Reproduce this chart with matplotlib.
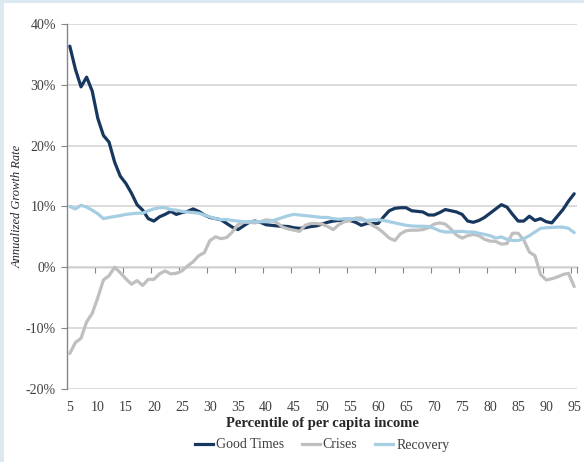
import numpy as np
import matplotlib
matplotlib.use("Agg")
import matplotlib.pyplot as plt
from matplotlib.patches import Rectangle
from matplotlib.lines import Line2D

percentiles = list(range(5, 96))

good_times = [36.4, 32.6, 29.7, 31.3, 29.0, 24.5, 21.7, 20.6, 17.3, 15.0,
              13.8, 12.2, 10.3, 9.4, 8.0, 7.6, 8.3, 8.7, 9.2, 8.7,
              9.0, 9.2, 9.6, 9.2, 8.6, 8.2, 8.0, 7.8, 7.2, 6.6,
              6.2, 6.8, 7.4, 7.6, 7.4, 7.0, 6.9, 6.8, 6.75, 6.7,
              6.5, 6.4, 6.5, 6.7, 6.8, 7.1, 7.4, 7.6, 7.7, 7.7,
              7.7, 7.4, 6.9, 7.2, 7.2, 7.2, 8.3, 9.3, 9.7, 9.8,
              9.8, 9.3, 9.2, 9.1, 8.6, 8.6, 9.0, 9.5, 9.3, 9.1,
              8.7, 7.6, 7.4, 7.7, 8.2, 8.9, 9.6, 10.3, 9.9, 8.7,
              7.6, 7.6, 8.4, 7.7, 8.0, 7.5, 7.3, 8.4, 9.5, 10.9,
              12.1]

crises = [-14.2, -12.4, -11.7, -9.0, -7.6, -5.0, -2.1, -1.4, 0.0, -0.9,
          -1.9, -2.8, -2.2, -3.0, -2.0, -2.0, -1.1, -0.6, -1.1, -1.0,
          -0.6, 0.2, 0.9, 1.9, 2.4, 4.4, 5.0, 4.7, 4.9, 5.8,
          7.0, 7.4, 7.4, 7.3, 7.5, 7.8, 7.7, 7.3, 6.6, 6.3,
          6.1, 5.9, 6.9, 7.2, 7.2, 7.1, 6.7, 6.2, 7.0, 7.5,
          7.7, 8.1, 8.1, 7.6, 6.9, 6.4, 5.65, 4.8, 4.4, 5.5,
          6.0, 6.1, 6.1, 6.2, 6.5, 7.1, 7.3, 7.1, 6.3, 5.3,
          4.8, 5.2, 5.4, 5.2, 4.6, 4.3, 4.25, 3.8, 3.9, 5.6,
          5.6, 4.5, 2.5, 1.9, -1.2, -2.1, -1.9, -1.6, -1.2, -1.0,
          -3.2]

recovery = [10.0, 9.6, 10.2, 9.9, 9.4, 8.8, 8.0, 8.2, 8.35, 8.5,
            8.7, 8.8, 8.9, 8.9, 9.3, 9.6, 9.8, 9.8, 9.5, 9.4,
            9.2, 9.1, 9.0, 8.9, 8.6, 8.3, 8.0, 7.85, 7.85, 7.7,
            7.6, 7.5, 7.5, 7.5, 7.5, 7.5, 7.6, 7.9, 8.2, 8.5,
            8.7, 8.6, 8.5, 8.4, 8.3, 8.2, 8.2, 8.0, 7.9, 8.0,
            8.0, 7.9, 7.8, 7.7, 7.8, 7.8, 7.7, 7.5, 7.3, 7.1,
            6.9, 6.8, 6.75, 6.75, 6.7, 6.4, 6.0, 5.8, 5.8, 5.9,
            5.9, 5.8, 5.8, 5.6, 5.4, 5.2, 4.8, 5.0, 4.6, 4.4,
            4.4, 4.7, 5.2, 5.8, 6.4, 6.5, 6.55, 6.6, 6.6, 6.4,
            5.7]

series_names = ["Good Times", "Crises", "Recovery"]
series_colors = ["#17375E", "#BFBFBF", "#A6CEE3"]
x_tick_values = list(range(5, 96, 5))
y_tick_values = [-20, -10, 0, 10, 20, 30, 40]

plt.rcParams['font.family'] = ['Liberation Serif', 'DejaVu Serif']

W, H = 584, 462
fig = plt.figure(figsize=(W / 100, H / 100), dpi=100)
fig.patch.set_facecolor("white")
strip = "#DDE9F1"
fig.add_artist(Rectangle((0, 0), 4 / W, 1, transform=fig.transFigure,
                         facecolor=strip, edgecolor="none", zorder=-10))
fig.add_artist(Rectangle((0, 1 - 3 / H), 1, 3 / H, transform=fig.transFigure,
                         facecolor=strip, edgecolor="none", zorder=-10))

left, right, top, bottom = 67, 577, 24.3, 388.7
ax = fig.add_axes([left / W, 1 - bottom / H, (right - left) / W, (bottom - top) / H])
ax.set_facecolor("none")

for vals, name, col in zip([good_times, crises, recovery], series_names, series_colors):
    ax.plot(percentiles, vals, color=col, lw=2.3, label=name, zorder=3,
            solid_joinstyle="round", solid_capstyle="round")

ax.set_xlim(4.5, 95.5)
ax.set_ylim(-20, 40)

ax.set_yticks(y_tick_values)
ax.set_yticklabels([f"{v}%" for v in y_tick_values], fontsize=10, color="#404040")
ax.yaxis.grid(True, color="#D9D9D9", lw=1.3)
ax.set_axisbelow(True)
ax.tick_params(axis="y", direction="out", length=4, color="#868686", pad=4)

ax.set_xticks(x_tick_values)
ax.set_xticklabels([str(v) for v in x_tick_values], fontsize=10, color="#404040")
ax.tick_params(axis="x", length=0, pad=9)

for s in ["top", "right", "bottom"]:
    ax.spines[s].set_visible(False)
ax.spines["left"].set_color("#868686")
ax.spines["left"].set_linewidth(1.0)

# zero axis with tick marks between categories
sec = ax.secondary_xaxis(1 / 3)
sec.set_xticks([v + 4.5 for v in x_tick_values[:-1]] + [95.5])
sec.set_xticklabels([])
sec.tick_params(direction="out", length=4, color="#868686")
sec.spines["bottom"].set_color("#868686")
sec.spines["bottom"].set_linewidth(1.0)

ax.set_xlabel("Percentile of per capita income", fontsize=10.5, fontweight="bold",
              color="#262626")
ax.xaxis.set_label_coords((322 - left) / (right - left), -(424 - bottom) / (bottom - top))
ax.xaxis.label.set_va("center")
ax.set_ylabel("Annualized Growth Rate", fontsize=9, style="italic", color="#262626")
ax.yaxis.set_label_coords(-(left - 18) / (right - left), 0.5)
ax.yaxis.label.set_va("center")

handles = [Line2D([], [], color=c, lw=2.3) for c in series_colors]
fig.legend(handles, series_names, loc="center", bbox_to_anchor=(322 / W, 1 - 445 / H),
           ncol=3, frameon=False, fontsize=10, handlelength=1.3, handletextpad=0.2,
           columnspacing=1.3, labelcolor="#404040")

fig.savefig("out.png", dpi=100, facecolor=fig.get_facecolor())
